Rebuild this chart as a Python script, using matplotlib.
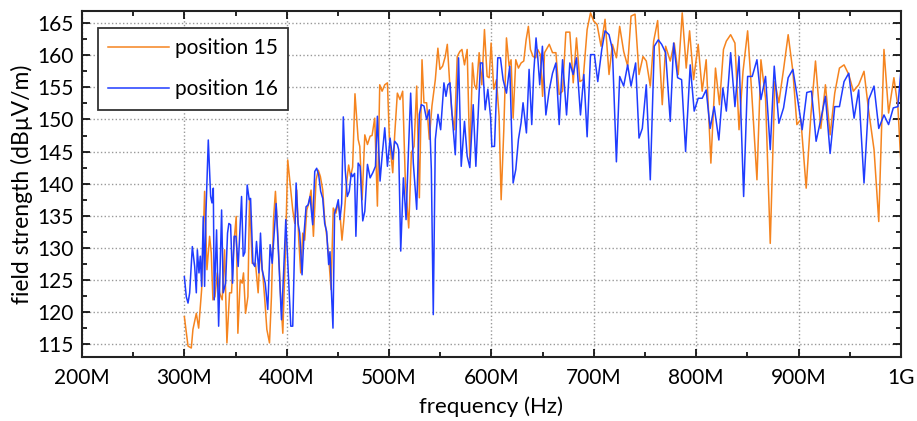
import matplotlib
matplotlib.use("Agg")
import matplotlib.pyplot as plt
from matplotlib.ticker import MultipleLocator

plt.rcParams['font.family'] = ['Lato', 'DejaVu Sans']

# frequency in MHz, field strength in dBuV/m
f15 = [300.0, 303.6, 306.8, 308.4, 311.7, 314.0, 316.9, 319.8, 322.1, 324.7, 326.3, 327.9, 329.9,
       332.2, 334.4, 337.0, 339.3, 341.6, 344.2, 346.1, 348.4, 350.7, 352.3, 354.6, 356.5, 357.8,
       359.8, 362.1, 363.7, 366.3, 369.5, 372.1, 374.1, 376.7, 378.6, 380.6, 383.2, 385.1, 387.1,
       389.0, 391.6, 393.9, 396.2, 398.8, 401.0, 403.6, 405.9, 407.9, 409.8, 411.8, 413.7, 415.7,
       417.6, 419.6, 421.5, 423.8, 426.1, 428.7, 430.9, 432.9, 435.2, 437.1, 439.1, 441.0, 443.3,
       445.5, 448.1, 450.1, 452.0, 454.0, 455.9, 458.5, 460.5, 462.4, 464.4, 466.7,
       469.8, 471.4, 473.7, 476.3, 478.9, 481.5, 483.4, 486.0, 488.6, 490.9, 493.2, 495.8, 498.4,
       500.3, 503.6, 505.5, 508.1, 510.7, 513.3, 515.9, 519.2, 521.8, 524.4, 527.0, 529.6, 532.2,
       534.1, 536.7, 539.3, 541.9, 545.2, 547.7, 549.7, 552.3, 554.9, 556.9, 559.1, 561.4, 564.0,
       566.6, 569.2, 571.2, 573.7, 576.3, 578.9, 581.5, 583.5, 585.4, 588.0, 590.6, 593.2, 595.8,
       597.8, 599.7, 602.3, 604.9, 607.5, 609.5, 612.1, 614.7, 617.3, 619.2, 621.2, 623.8, 626.4,
       629.0, 631.6, 633.9, 636.1, 638.1, 640.7, 643.3, 645.2, 647.8,
       650.0, 651.9, 656.5, 659.7, 663.0, 666.2, 669.5, 672.7, 676.6, 679.9, 683.1, 686.4, 689.6,
       693.5, 696.8, 700.0, 703.2, 707.1, 711.0, 714.9, 718.2, 722.1, 725.3, 729.2, 733.1, 736.4,
       740.3, 744.2, 748.1, 751.3, 755.2, 758.5, 762.4, 766.9, 770.2, 774.7, 778.6, 782.5, 786.4,
       790.3, 793.6, 797.5, 802.0, 805.9, 809.8, 814.4, 818.9, 822.8, 826.7,
       829.5, 833.7, 837.9, 841.9, 845.8, 850.3, 854.2, 859.4, 863.3, 867.8, 872.4, 876.9, 880.8,
       885.4, 889.9, 894.5, 898.4, 902.3, 907.5, 912.0, 916.6, 921.8, 926.3, 930.9, 935.4, 940.0,
       944.5, 949.1, 953.6, 958.8, 964.0, 968.6, 973.8, 978.4, 983.5, 988.0, 993.2, 997.1, 1000.0]
v15 = [119.3, 114.7, 114.4, 117.3, 119.8, 117.5, 123.5, 138.8, 126.6, 131.8, 129.2, 121.9, 122.4,
       126.1, 123.0, 121.9, 129.7, 115.2, 123.0, 123.0, 130.7, 134.9, 116.7, 125.0, 124.5, 126.1,
       119.8, 122.4, 137.7, 127.6, 127.6, 123.0, 129.7, 125.8, 121.9, 117.3, 115.2, 122.4, 134.4,
       138.8, 131.2, 123.0, 116.7, 129.7, 143.7, 139.5, 135.9, 133.8, 139.0, 131.2, 126.1, 132.3,
       131.2, 135.9, 136.9, 139.0, 131.8, 140.6, 142.1, 141.1, 139.0, 134.4, 131.8, 128.7, 123.5,
       136.2, 135.4, 136.9, 135.4, 131.2, 134.4, 140.1, 142.9, 141.1, 142.6, 154.0,
       146.9, 145.8, 137.5, 147.6, 146.1, 147.4, 147.5, 150.2, 136.5, 155.4, 154.4, 155.4, 155.7,
       147.1, 141.7, 147.6, 154.1, 153.1, 154.4, 140.4, 133.1, 144.8, 145.8, 155.2, 137.8, 159.3,
       152.6, 152.6, 146.9, 152.1, 156.2, 161.1, 157.8, 158.3, 159.8, 161.7, 156.0, 151.0, 148.4,
       159.8, 160.6, 160.9, 158.5, 160.9, 143.8, 158.8, 155.4, 154.7, 160.4, 155.4, 164.0, 156.7,
       156.5, 161.9, 154.7, 156.2, 150.5, 137.5, 148.4, 162.7, 158.3, 159.3, 150.2, 159.3, 158.0,
       158.8, 159.1, 162.4, 164.5, 160.9, 159.8, 159.6, 160.9, 160.1,
       153.6, 160.4, 161.7, 160.4, 160.4, 153.9, 154.4, 163.6, 163.6, 155.7, 162.7, 155.9, 156.2,
       164.0, 166.6, 165.3, 164.8, 161.4, 165.6, 157.0, 161.7, 159.6, 164.5, 160.6, 158.3, 166.1,
       166.4, 157.0, 159.8, 159.1, 155.2, 162.2, 165.4, 152.3, 161.4, 159.1, 161.9, 157.0, 166.6,
       158.0, 163.8, 156.2, 161.7, 154.4, 159.3, 143.2, 158.0, 152.3, 160.9,
       162.2, 163.2, 161.9, 148.4, 157.5, 163.8, 154.4, 140.6, 159.3, 153.3, 130.7, 155.9, 152.6,
       157.8, 163.2, 157.5, 149.2, 150.0, 139.3, 150.5, 159.1, 148.6, 155.4, 147.6, 154.1, 158.0,
       158.5, 157.0, 154.4, 155.4, 157.5, 151.3, 145.3, 134.1, 160.9, 151.0, 156.5, 152.0, 143.2]

f16 = [300.0, 301.9, 303.6, 305.2, 307.8, 310.1, 311.7, 312.7, 314.3, 315.6, 316.9, 318.5, 319.8,
       321.1, 323.4, 325.7, 327.0, 328.3, 329.2, 331.5, 333.5, 336.4, 338.0, 340.3, 342.2, 343.5,
       345.2, 347.1, 348.7, 350.4, 352.6, 355.9, 357.5, 359.1, 361.4, 363.4, 364.7, 367.0, 368.9,
       370.5, 372.8, 374.4, 376.0, 379.0, 381.5, 383.8, 385.8, 389.7, 392.3, 394.9, 397.1, 399.1,
       404.0, 405.9, 409.2, 411.1, 412.7, 415.0, 417.0, 418.9, 420.9, 422.8, 425.4, 427.4, 429.3,
       431.3, 433.2, 435.2, 437.1, 439.1, 441.0, 442.3, 443.6, 445.2, 446.8, 448.8, 450.4, 452.0,
       453.7, 455.3, 457.2, 459.2, 461.1, 463.1, 464.4, 466.3, 467.6,
       469.8, 471.7, 474.3, 476.3, 478.9, 481.5, 484.1, 486.7, 488.6, 491.2, 493.2, 495.8, 498.4,
       501.0, 503.6, 505.5, 508.1, 509.4, 511.4, 514.0, 516.6, 518.5, 521.1, 523.7, 527.0, 529.6,
       531.5, 534.1, 536.7, 539.3, 541.3, 543.2, 545.2, 547.8, 550.4, 553.6, 555.6, 557.5, 559.5,
       561.4, 564.7, 567.9, 570.5, 573.7, 576.3, 578.9, 582.2, 584.8, 587.4, 589.3, 591.3, 593.9,
       596.5, 599.1, 600.4, 603.0, 606.2, 608.8, 611.4, 614.7, 617.9, 621.2, 623.8, 626.4, 629.0,
       630.9, 634.2, 636.8, 639.4, 641.3, 643.6, 645.2, 647.2, 649.8,
       653.2, 656.5, 659.7, 663.0, 666.2, 669.5, 673.4, 676.6, 679.9, 683.1, 687.0, 690.3, 693.5,
       696.8, 700.6, 703.9, 707.8, 711.0, 714.9, 718.2, 722.1, 725.3, 729.2, 733.1, 736.4, 740.9,
       744.2, 747.4, 751.3, 755.2, 759.1, 763.0, 766.3, 770.2, 774.7, 778.0, 781.9, 785.8, 789.7,
       794.2, 798.1, 802.0, 805.9, 809.8, 813.7, 817.6, 822.2, 826.1,
       829.5, 833.7, 837.9, 841.9, 846.4, 850.3, 854.8, 859.4, 863.3, 867.8, 872.4, 876.3, 880.8,
       885.4, 889.9, 894.5, 899.0, 903.6, 908.1, 912.7, 917.2, 921.8, 926.3, 930.9, 935.4, 940.0,
       944.5, 949.1, 954.3, 958.8, 964.0, 968.6, 973.8, 978.4, 983.5, 988.0, 992.6, 997.1, 1000.0]
v16 = [125.5, 122.4, 121.4, 123.0, 130.2, 127.1, 123.0, 129.7, 126.1, 128.7, 124.0, 134.9, 124.0,
       135.4, 146.8, 138.0, 137.0, 139.3, 121.9, 132.8, 117.8, 135.9, 123.0, 124.5, 132.3, 133.8,
       133.6, 124.5, 131.8, 131.8, 127.1, 138.0, 128.7, 129.3, 139.8, 137.5, 137.7, 127.6, 127.1,
       131.0, 126.1, 132.3, 126.6, 124.5, 120.4, 130.5, 127.6, 136.9, 128.1, 118.8, 126.6, 134.4,
       117.8, 117.8, 140.1, 133.8, 132.3, 125.8, 132.3, 136.4, 136.7, 138.0, 133.6, 141.9, 142.4,
       141.3, 138.8, 137.7, 133.8, 132.5, 127.4, 129.4, 123.5, 117.5, 135.4, 136.4, 137.5, 134.4,
       136.9, 150.4, 142.1, 138.0, 138.8, 141.6, 141.1, 141.6, 131.8,
       143.2, 142.7, 134.2, 135.7, 143.0, 140.9, 141.7, 142.7, 150.5, 140.4, 144.3, 148.7, 142.7,
       147.1, 143.8, 146.6, 146.1, 145.3, 129.5, 140.9, 134.4, 143.2, 154.1, 143.2, 136.0, 150.8,
       152.3, 152.1, 150.0, 151.5, 142.2, 119.6, 146.9, 150.8, 148.4, 155.7, 153.6, 155.4, 155.7,
       151.0, 144.5, 159.6, 142.7, 149.7, 144.3, 142.5, 152.3, 142.7, 152.1, 158.8, 158.8, 151.5,
       154.7, 150.5, 145.8, 145.8, 159.6, 159.6, 156.2, 154.1, 158.3, 140.1, 142.2, 146.9, 149.5,
       152.6, 147.9, 157.8, 149.2, 157.2, 162.7, 159.8, 155.4, 161.4,
       150.7, 154.6, 157.2, 158.8, 149.2, 159.3, 150.7, 158.8, 157.0, 159.6, 150.7, 157.0, 147.3,
       160.1, 160.1, 155.9, 160.9, 163.8, 163.2, 160.9, 143.4, 156.7, 155.2, 158.5, 155.2, 158.8,
       147.1, 148.6, 155.4, 140.6, 161.4, 162.4, 161.7, 160.4, 149.7, 161.9, 156.5, 156.2, 145.0,
       158.5, 151.3, 153.3, 153.3, 154.6, 148.6, 152.0, 146.8, 154.9,
       151.3, 160.4, 152.0, 159.8, 138.0, 156.7, 156.7, 159.3, 153.1, 156.7, 145.3, 158.3, 149.4,
       151.8, 156.5, 157.8, 153.3, 148.4, 154.2, 154.4, 146.6, 150.0, 153.6, 144.7, 152.0, 152.0,
       155.9, 157.2, 150.2, 154.6, 140.1, 153.1, 155.2, 148.6, 150.7, 149.2, 151.8, 152.0, 157.5]

xticks = [200, 300, 400, 500, 600, 700, 800, 900, 1000]
xlabels = ['200M', '300M', '400M', '500M', '600M', '700M', '800M', '900M', '1G']

fig = plt.figure(figsize=(9.17, 4.21), dpi=100)
ax = fig.add_axes([0.0894, 0.152, 0.893, 0.822])

ax.plot(f15, v15, color='#f5841f', lw=1.1, label='position 15')
ax.plot(f16, v16, color='#1f3cff', lw=1.1, label='position 16')

ax.set_xlim(200, 1000)
ax.set_ylim(113.0, 166.9)
ax.set_xticks(xticks)
ax.set_xticklabels(xlabels)
ax.xaxis.set_minor_locator(MultipleLocator(50))
ax.yaxis.set_major_locator(MultipleLocator(5))
ax.yaxis.set_minor_locator(MultipleLocator(2.5))
ax.tick_params(which='both', direction='in', top=True, right=True, labelsize=15, width=1.2)
ax.tick_params(which='major', length=6)
ax.tick_params(which='minor', length=3.5)
ax.tick_params(axis='x', pad=8)
ax.tick_params(axis='y', pad=6)
ax.grid(True, which='major', linestyle=':', color='#999999', lw=1.0)
for s in ax.spines.values():
    s.set_linewidth(1.5)
    s.set_color('#222222')

ax.set_xlabel('frequency (Hz)', fontsize=16, labelpad=6)
ax.set_ylabel('field strength (dBµV/m)', fontsize=16.5, labelpad=3)

leg = ax.legend(loc='upper left', bbox_to_anchor=(0.0194, 0.951), borderaxespad=0,
                fontsize=15, handlelength=2.9, handletextpad=0.3, labelspacing=1.0,
                fancybox=False, framealpha=1, borderpad=0.5)
leg.get_frame().set_edgecolor('#333333')
leg.get_frame().set_linewidth(1.3)

fig.savefig('out.png', dpi=100)
